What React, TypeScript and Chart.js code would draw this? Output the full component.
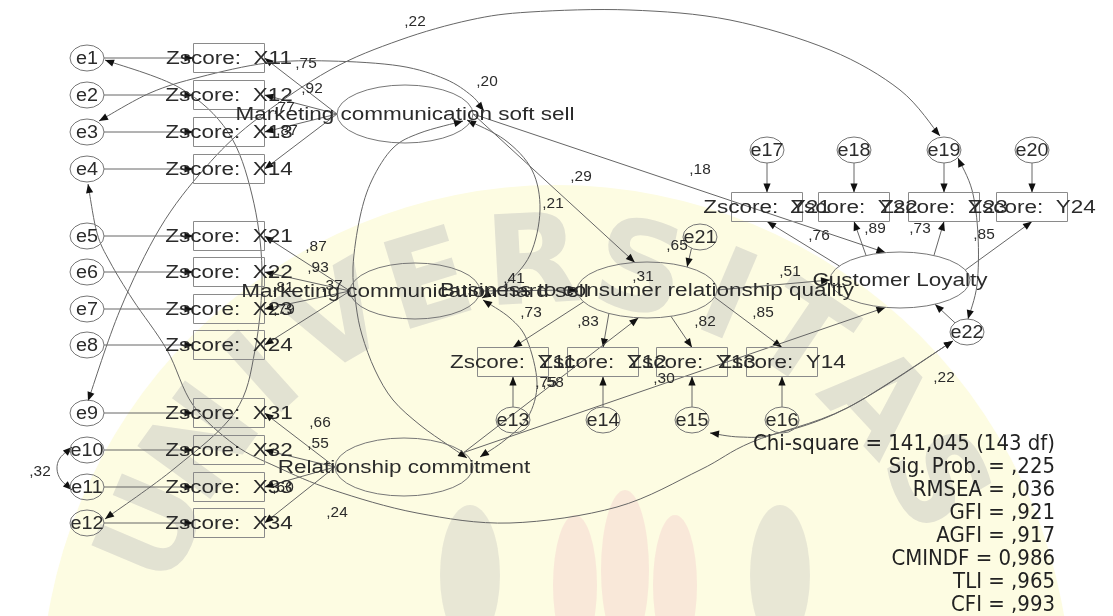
import React, { useEffect, useRef } from "react";
import { Chart, registerables } from "chart.js";

Chart.register(...registerables);

const CANVAS_W = 1113;
const CANVAS_H = 616;

// ---------- measurement model, left block ----------
const leftErrors = ["e1", "e2", "e3", "e4", "e5", "e6", "e7", "e8", "e9", "e10", "e11", "e12"];
const leftIndicators = ["X11", "X12", "X13", "X14", "X21", "X22", "X23", "X24", "X31", "X32", "X33", "X34"];
const leftRowY = [58, 95, 132, 169, 236, 272, 309, 345, 413, 450, 487, 523];
const leftErrorX = 87;
const leftRectX = 229;
const leftOwner = ["SS", "SS", "SS", "SS", "HS", "HS", "HS", "HS", "RC", "RC", "RC", "RC"];

// ---------- B2C relationship quality indicators ----------
const qualityIndicators = ["Y11", "Y12", "Y13", "Y14"];
const qualityX = [513, 603, 692, 782];
const qualityErrors = ["e13", "e14", "e15", "e16"];
const qualityRectY = 362;
const qualityErrorY = 420;
const qualityFromAngle = [155, 123, 70, 15];

// ---------- customer loyalty indicators ----------
const loyaltyIndicators = ["Y21", "Y22", "Y23", "Y24"];
const loyaltyX = [767, 854, 944, 1032];
const loyaltyErrors = ["e17", "e18", "e19", "e20"];
const loyaltyRectY = 207;
const loyaltyErrorY = 150;
const loyaltyFromAngle = [210, 241, 299, 339];

// ---------- latent variables ----------
const latentIds = ["SS", "HS", "RC", "B2C", "CL"];
const latentLabels = [
  "Marketing communication soft sell",
  "Marketing communication hard sell",
  "Relationship commitment",
  "Business to consumer relationship quality",
  "Customer Loyalty",
];
const latentX = [405, 415, 404, 647, 900];
const latentY = [114, 291, 467, 290, 280];
const latentRX = [68, 65, 69, 70, 70];
const latentRY = [29, 28, 29, 28, 28];

// ---------- disturbances ----------
const disturbanceIds = ["e21", "e22"];
const disturbanceX = [700, 967];
const disturbanceY = [237, 332];

// ---------- structural paths [from, fromAngle, to, toAngle] ----------
const structuralFrom = ["SS", "SS", "HS", "B2C", "RC", "RC", "e21", "e22"];
const structuralFromAngle = [0, 0, 0, 0, 330, 330, 120, 225];
const structuralTo = ["B2C", "CL", "B2C", "CL", "B2C", "CL", "B2C", "CL"];
const structuralToAngle = [260, 258, 180, 180, 97, 102, 305, 60];

// ---------- covariance curves (way points) ----------
const curveE9E19 = [[88, 401], [120, 310], [160, 228], [205, 168], [253, 122], [330, 70], [400, 40], [470, 20], [530, 12], [630, 10], [730, 20], [830, 50], [900, 90], [940, 136]];
const curveE3SS = [[99, 121], [150, 93], [200, 77], [267, 63], [330, 61], [400, 66], [445, 79], [472, 96], [484, 111]];
const curveE1E12 = [[105, 60], [180, 88], [228, 132], [252, 195], [262, 270], [255, 350], [235, 412], [175, 468], [105, 519]];
const curveE4E22 = [[88, 184], [97, 233], [110, 262], [133, 300], [167, 350], [193, 405], [235, 445], [277, 467], [333, 490], [417, 513], [510, 523], [617, 507], [700, 470], [752, 442], [847, 408], [953, 341]];
const curveE15E22 = [[710, 433], [740, 437], [775, 434], [847, 408], [953, 341]];
const curveE10E11 = [[72, 447], [60, 458], [57, 469], [61, 480], [72, 490]];
const curveE19E22 = [[968, 319], [977, 285], [978, 235], [972, 190], [958, 158]];
const curveSSHS = [[467, 120], [505, 140], [532, 170], [540, 210], [530, 255], [505, 285], [482, 298]];
const curveSSRC = [[463, 121], [420, 133], [393, 148], [372, 180], [360, 217], [353, 267], [356, 305], [362, 335], [375, 370], [393, 400], [420, 425], [448, 445], [467, 458]];
const curveHSRC = [[483, 300], [510, 318], [527, 340], [537, 383], [528, 417], [505, 440], [480, 457]];
const covarianceCurves = [curveE9E19, curveE3SS, curveE1E12, curveE4E22, curveE15E22, curveE10E11, curveE19E22, curveSSHS, curveSSRC, curveHSRC];

// ---------- estimates printed on the diagram ----------
const estimateText = [",75", ",92", ",77", ",87", ",87", ",93", ",81", ",79", ",66", ",55", ",60", ",41", ",29", ",18", ",21", ",20", ",22", ",73", ",83", ",82", ",85", ",51", ",76", ",89", ",73", ",85", ",65", ",31", ",75", ",58", ",30", ",24", ",22", ",32", ",37"];
const estimateX = [306, 312, 284, 287, 316, 318, 283, 284, 320, 318, 283, 514, 581, 700, 553, 487, 415, 531, 588, 705, 763, 790, 819, 875, 920, 984, 677, 643, 546, 553, 664, 337, 944, 40, 332];
const estimateY = [64, 89, 108, 131, 247, 268, 288, 310, 423, 444, 488, 279, 177, 170, 204, 82, 22, 313, 322, 322, 313, 272, 236, 229, 229, 235, 246, 277, 383, 383, 379, 513, 378, 472, 286];

// ---------- fit statistics ----------
const fitLines = [
  "Chi-square = 141,045 (143 df)",
  "Sig. Prob. = ,225",
  "RMSEA = ,036",
  "GFI = ,921",
  "AGFI = ,917",
  "CMINDF = 0,986",
  "TLI = ,965",
  "CFI = ,993",
];
const fitRight = 1055;
const fitTop = 445;
const fitStep = 22.9;

// ---------- watermark ----------
const watermarkLetters = ["U", "N", "I", "V", "E", "R", "S", "I", "T", "A", "S"];
const watermarkAngles = [203, 216, 228, 240, 253, 267, 281, 293, 304, 317, 330];

type NodeT = { x: number; y: number; hw: number; hh: number; kind: "rect" | "ellipse"; text: string; font: string; sx: number };

function buildNodes(): Record<string, NodeT> {
  const n: Record<string, NodeT> = {};
  const errFont = "18px 'Liberation Sans', Arial, sans-serif";
  const mainFont = "18px 'Liberation Sans', Arial, sans-serif";
  const err = (id: string, x: number, y: number) => {
    n[id] = { x, y, hw: 17, hh: 13, kind: "ellipse", text: id, font: errFont, sx: 1.1 };
  };
  const rect = (id: string, x: number, y: number) => {
    n[id] = { x, y, hw: 35.5, hh: 14.5, kind: "rect", text: "Zscore:  " + id, font: mainFont, sx: 1.25 };
  };
  leftErrors.forEach((e, i) => err(e, leftErrorX, leftRowY[i]));
  leftIndicators.forEach((v, i) => rect(v, leftRectX, leftRowY[i]));
  qualityIndicators.forEach((v, i) => rect(v, qualityX[i], qualityRectY));
  qualityErrors.forEach((e, i) => err(e, qualityX[i], qualityErrorY));
  loyaltyIndicators.forEach((v, i) => rect(v, loyaltyX[i], loyaltyRectY));
  loyaltyErrors.forEach((e, i) => err(e, loyaltyX[i], loyaltyErrorY));
  disturbanceIds.forEach((e, i) => err(e, disturbanceX[i], disturbanceY[i]));
  latentIds.forEach((id, i) => {
    n[id] = { x: latentX[i], y: latentY[i], hw: latentRX[i], hh: latentRY[i], kind: "ellipse", text: latentLabels[i], font: mainFont, sx: 1.25 };
  });
  return n;
}

const NODES = buildNodes();

function anchor(id: string, angleDeg: number): [number, number] {
  const nd = NODES[id];
  const a = (angleDeg * Math.PI) / 180;
  const c = Math.cos(a);
  const s = Math.sin(a);
  const r = (v: number) => (Math.abs(v) < 1e-9 ? 0 : v);
  return [nd.x + nd.hw * r(c), nd.y + nd.hh * r(s)];
}

type Seg = { a: [number, number]; b: [number, number] };
function directedPaths(): Seg[] {
  const segs: Seg[] = [];
  leftErrors.forEach((e, i) => segs.push({ a: anchor(e, 0), b: anchor(leftIndicators[i], 180) }));
  leftIndicators.forEach((v, i) => segs.push({ a: anchor(leftOwner[i], 180), b: anchor(v, 0) }));
  qualityIndicators.forEach((v, i) => segs.push({ a: anchor("B2C", qualityFromAngle[i]), b: anchor(v, 270) }));
  qualityErrors.forEach((e, i) => segs.push({ a: anchor(e, 270), b: anchor(qualityIndicators[i], 90) }));
  loyaltyIndicators.forEach((v, i) => segs.push({ a: anchor("CL", loyaltyFromAngle[i]), b: anchor(v, 90) }));
  loyaltyErrors.forEach((e, i) => segs.push({ a: anchor(e, 90), b: anchor(loyaltyIndicators[i], 270) }));
  structuralFrom.forEach((f, i) =>
    segs.push({ a: anchor(f, structuralFromAngle[i]), b: anchor(structuralTo[i], structuralToAngle[i]) })
  );
  return segs;
}

function stretchText(ctx: CanvasRenderingContext2D, text: string, x: number, y: number, font: string, sx: number, align: CanvasTextAlign, color: string) {
  ctx.save();
  ctx.font = font;
  ctx.fillStyle = color;
  ctx.textAlign = align;
  ctx.textBaseline = "middle";
  ctx.translate(x, y);
  ctx.scale(sx, 1);
  ctx.fillText(text, 0, 0);
  ctx.restore();
}

function arrowHead(ctx: CanvasRenderingContext2D, tx: number, ty: number, fx: number, fy: number) {
  const ang = Math.atan2(ty - fy, tx - fx);
  const len = 9;
  const half = 3.6;
  ctx.save();
  ctx.fillStyle = "#111";
  ctx.beginPath();
  ctx.moveTo(tx, ty);
  ctx.lineTo(tx - len * Math.cos(ang) + half * Math.sin(ang), ty - len * Math.sin(ang) - half * Math.cos(ang));
  ctx.lineTo(tx - len * Math.cos(ang) - half * Math.sin(ang), ty - len * Math.sin(ang) + half * Math.cos(ang));
  ctx.closePath();
  ctx.fill();
  ctx.restore();
}

const diagramPlugin = {
  id: "semDiagram",
  beforeDatasetsDraw(chart: any) {
    const ctx: CanvasRenderingContext2D = chart.ctx;
    const xs = chart.scales.x;
    const ys = chart.scales.y;
    const px = (v: number) => xs.getPixelForValue(v);
    const py = (v: number) => ys.getPixelForValue(v);
    const dx = (d: number) => px(d) - px(0);
    const dy = (d: number) => py(d) - py(0);
    const P = (p: number[]): [number, number] => [px(p[0]), py(p[1])];

    ctx.save();
    // background
    ctx.fillStyle = "#ffffff";
    ctx.fillRect(px(0), py(0), dx(CANVAS_W), dy(CANVAS_H));

    // watermark disc
    ctx.fillStyle = "rgb(253,252,226)";
    ctx.beginPath();
    ctx.arc(px(556), py(700), dx(515), 0, Math.PI * 2);
    ctx.fill();

    // watermark lettering
    watermarkLetters.forEach((ch, i) => {
      const a = (watermarkAngles[i] * Math.PI) / 180;
      const cx = 556 + 430 * Math.cos(a);
      const cy = 700 + 430 * Math.sin(a);
      ctx.save();
      ctx.translate(px(cx), py(cy));
      ctx.rotate(a + Math.PI / 2);
      ctx.font = "bold 124px 'DejaVu Sans', sans-serif";
      ctx.fillStyle = "rgba(150,150,165,0.26)";
      ctx.textAlign = "center";
      ctx.textBaseline = "middle";
      ctx.fillText(ch, 0, 0);
      ctx.restore();
    });

    // watermark emblem (faint)
    ctx.fillStyle = "rgba(235,165,185,0.22)";
    [[575, 585, 22, 70], [625, 570, 24, 80], [675, 585, 22, 70]].forEach((e) => {
      ctx.beginPath();
      ctx.ellipse(px(e[0]), py(e[1]), dx(e[2]), dy(e[3]), 0, 0, Math.PI * 2);
      ctx.fill();
    });
    ctx.fillStyle = "rgba(150,150,165,0.2)";
    [[470, 575, 30, 70], [780, 575, 30, 70]].forEach((e) => {
      ctx.beginPath();
      ctx.ellipse(px(e[0]), py(e[1]), dx(e[2]), dy(e[3]), 0, 0, Math.PI * 2);
      ctx.fill();
    });

    // directed paths
    ctx.strokeStyle = "#666";
    ctx.lineWidth = 1;
    directedPaths().forEach((s) => {
      const a = P(s.a);
      const b = P(s.b);
      ctx.beginPath();
      ctx.moveTo(a[0], a[1]);
      ctx.lineTo(b[0], b[1]);
      ctx.stroke();
      arrowHead(ctx, b[0], b[1], a[0], a[1]);
    });

    // covariance curves
    covarianceCurves.forEach((raw) => {
      const pts = raw.map(P);
      ctx.beginPath();
      ctx.moveTo(pts[0][0], pts[0][1]);
      for (let i = 0; i < pts.length - 1; i++) {
        const p0 = pts[i - 1] || pts[i];
        const p1 = pts[i];
        const p2 = pts[i + 1];
        const p3 = pts[i + 2] || p2;
        ctx.bezierCurveTo(
          p1[0] + (p2[0] - p0[0]) / 6, p1[1] + (p2[1] - p0[1]) / 6,
          p2[0] - (p3[0] - p1[0]) / 6, p2[1] - (p3[1] - p1[1]) / 6,
          p2[0], p2[1]
        );
      }
      ctx.stroke();
      arrowHead(ctx, pts[0][0], pts[0][1], pts[1][0], pts[1][1]);
      const n = pts.length;
      arrowHead(ctx, pts[n - 1][0], pts[n - 1][1], pts[n - 2][0], pts[n - 2][1]);
    });

    // node outlines
    Object.keys(NODES).forEach((id) => {
      const nd = NODES[id];
      ctx.strokeStyle = nd.kind === "rect" ? "#8a8a8a" : "#777";
      ctx.beginPath();
      if (nd.kind === "rect") {
        ctx.rect(px(nd.x - nd.hw), py(nd.y - nd.hh), dx(nd.hw * 2), dy(nd.hh * 2));
      } else {
        ctx.ellipse(px(nd.x), py(nd.y), dx(nd.hw), dy(nd.hh), 0, 0, Math.PI * 2);
      }
      ctx.stroke();
    });

    // node texts
    Object.keys(NODES).forEach((id) => {
      const nd = NODES[id];
      stretchText(ctx, nd.text, px(nd.x), py(nd.y + 1), nd.font, nd.sx, "center", "#2b2b2b");
    });

    // estimates
    estimateText.forEach((t, i) => {
      stretchText(ctx, t, px(estimateX[i]), py(estimateY[i]), "14px 'Liberation Sans', Arial, sans-serif", 1.1, "center", "#2b2b2b");
    });

    // fit statistics
    fitLines.forEach((t, i) => {
      stretchText(ctx, t, px(fitRight), py(fitTop + i * fitStep), "21px 'DejaVu Sans', sans-serif", 0.94, "right", "#222");
    });

    ctx.restore();
  },
};

const nodePoints = Object.keys(NODES).map((id) => ({ x: NODES[id].x, y: NODES[id].y }));

export default function App() {
  const ref = useRef<HTMLCanvasElement | null>(null);
  useEffect(() => {
    document.body.style.margin = "0";
    const canvas = ref.current!;
    const chart = new Chart(canvas, {
      type: "scatter",
      data: { datasets: [{ data: nodePoints, pointRadius: 0, showLine: false }] },
      options: {
        animation: false,
        responsive: false,
        maintainAspectRatio: false,
        layout: { padding: 0 },
        events: [],
        scales: {
          x: { type: "linear", min: 0, max: CANVAS_W, display: false },
          y: { type: "linear", min: 0, max: CANVAS_H, reverse: true, display: false },
        },
        plugins: { legend: { display: false }, tooltip: { enabled: false } },
      },
      plugins: [diagramPlugin],
    } as any);
    return () => chart.destroy();
  }, []);
  return (
    <div style={{ position: "fixed", left: 0, top: 0, width: CANVAS_W, height: CANVAS_H, background: "#fff" }}>
      <canvas ref={ref} width={CANVAS_W} height={CANVAS_H} style={{ width: CANVAS_W, height: CANVAS_H, display: "block" }} />
    </div>
  );
}
